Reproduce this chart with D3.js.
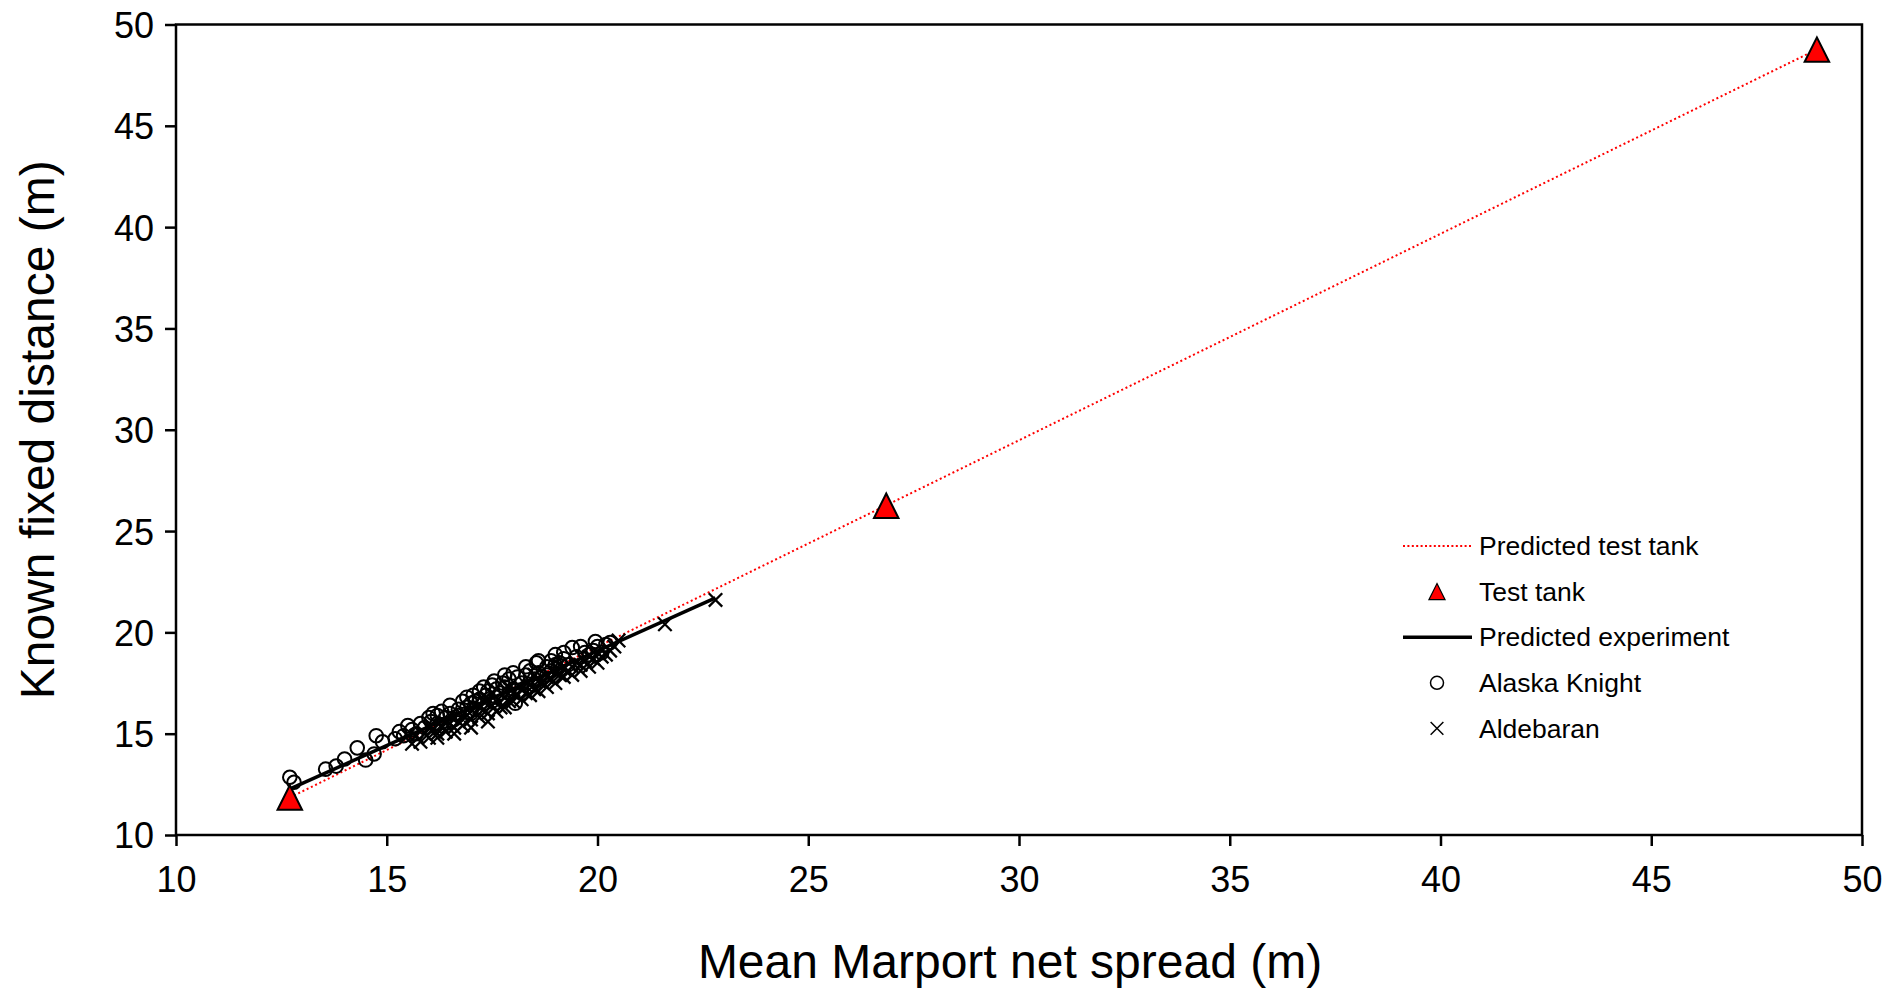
<!DOCTYPE html>
<html>
<head>
<meta charset="utf-8">
<script src="https://cdn.jsdelivr.net/npm/d3@7"></script>
<style>
  body { margin: 0; background: #fff; }
  text { font-family: "Liberation Sans", Arial, sans-serif; fill: #000; }
</style>
</head>
<body>
<svg id="chart"></svg>
<script>
// test tank measurements and fit
const tankX = [12.7, 26.85, 48.93];
const tankY = [11.85, 26.25, 48.76];
const predTankX = [12.7, 48.93];
const predTankY = [11.85, 48.77];

// predicted line for the experiment
const predExpX = [12.68, 22.8];
const predExpY = [12.25, 21.7];

// Alaska Knight (circles)
const knightX = [12.7, 12.8, 13.55, 13.8, 14.0, 14.3, 14.5, 14.7, 14.75, 15.2,
  15.4, 15.6, 15.8, 15.9, 16.0, 16.05, 16.2, 16.3, 16.4, 16.5,
  16.6, 16.7, 16.8, 16.9, 17.0, 17.05, 17.1, 17.2, 17.3, 17.35,
  17.4, 17.5, 17.55, 17.6, 17.7, 17.75, 17.8, 17.9, 18.0, 18.05,
  18.1, 18.2, 18.3, 18.35, 18.4, 18.5, 18.55, 18.6, 18.7, 18.8,
  18.9, 19.0, 19.05, 19.1, 19.2, 19.4, 19.5, 19.7, 19.95, 20.0,
  20.1, 20.2,
  15.5, 15.7, 16.1, 16.3, 16.5, 16.7, 16.9, 17.0, 17.2, 17.3,
  17.5, 17.6, 17.8, 17.9, 18.0, 18.2, 18.3, 18.5, 18.6, 18.8,
  19.0, 19.2, 19.3, 19.6, 19.8, 20.3, 19.9, 18.9, 17.1, 16.2,
  15.3, 14.9];
const knightY = [12.85, 12.6, 13.25, 13.4, 13.75, 14.3, 13.7, 14.0, 14.9, 14.75,
  14.9, 15.2, 15.5, 15.3, 15.8, 15.6, 15.5, 16.1, 15.8, 16.0,
  15.7, 16.2, 16.6, 16.3, 16.5, 16.9, 16.2, 16.7, 17.3, 16.9,
  17.1, 16.6, 17.6, 17.2, 17.0, 17.5, 17.3, 17.7, 17.2, 16.5,
  17.8, 17.5, 17.9, 17.3, 18.1, 17.7, 18.5, 18.0, 17.8, 18.3,
  18.6, 18.9, 18.2, 18.5, 18.7, 19.25, 18.8, 19.0, 19.55, 19.3,
  19.0, 19.4,
  15.4, 15.0, 16.0, 15.4, 16.4, 15.9, 16.8, 16.0, 17.1, 16.5,
  17.4, 16.8, 17.9, 17.0, 18.0, 17.0, 18.3, 17.4, 18.6, 17.9,
  18.4, 19.0, 18.4, 19.3, 18.9, 19.5, 19.1, 18.1, 16.6, 15.9,
  15.1, 14.6];

// Aldebaran (crosses)
const aldebX = [15.6, 15.7, 15.9, 16.0, 16.1, 16.2, 16.3, 16.4, 16.5, 16.6,
  16.7, 16.8, 16.9, 17.0, 17.1, 17.2, 17.3, 17.4, 17.5, 17.6,
  17.7, 17.8, 17.9, 18.0, 18.1, 18.2, 18.3, 18.4, 18.5, 18.6,
  18.7, 18.8, 18.9, 19.0, 19.1, 19.2, 19.3, 19.4, 19.5, 19.6,
  19.7, 19.8, 19.9, 20.0, 20.1, 20.3, 20.4, 21.6, 22.8,
  15.8, 16.0, 16.2, 16.4, 16.6, 16.8, 17.0, 17.2, 17.4, 17.6,
  17.8, 18.0, 18.2, 18.4, 18.6, 18.8, 19.0, 19.2, 19.4, 19.6,
  19.8, 20.0, 20.2, 17.3, 17.9, 18.5, 19.1, 16.5, 15.5, 20.5];
const aldebY = [14.5, 14.9, 15.0, 14.8, 15.2, 15.0, 15.4, 15.1, 15.5, 15.3,
  15.6, 15.4, 15.9, 15.7, 16.0, 15.8, 16.2, 16.0, 16.4, 16.6,
  16.3, 16.8, 16.6, 17.0, 16.9, 17.2, 17.0, 17.4, 17.2, 17.6,
  17.5, 17.8, 17.7, 18.0, 17.9, 18.2, 18.1, 18.3, 18.5, 18.4,
  18.6, 18.8, 18.7, 19.0, 18.8, 19.1, 19.3, 20.4, 21.6,
  14.6, 15.3, 14.8, 15.5, 15.0, 15.9, 15.3, 16.3, 15.6, 16.1,
  16.3, 16.6, 16.7, 16.9, 17.1, 17.3, 17.5, 17.8, 17.9, 18.1,
  18.3, 18.5, 18.9, 16.7, 17.3, 17.9, 18.4, 15.9, 14.9, 19.6];

const xTicks = [10, 15, 20, 25, 30, 35, 40, 45, 50];
const yTicks = [10, 15, 20, 25, 30, 35, 40, 45, 50];

const legendItems = ['Predicted test tank', 'Test tank', 'Predicted experiment', 'Alaska Knight', 'Aldebaran'];

const width = 1903;
const height = 990;
const plot = {left: 176, right: 1862, top: 24.5, bottom: 835};

const svg = d3.select('#chart')
  .attr('width', width)
  .attr('height', height);

const x = d3.scaleLinear().domain([10, 50]).range([plot.left, plot.right]);
const y = d3.scaleLinear().domain([10, 50]).range([plot.bottom, plot.top]);

// triangle centred on its bounding box, a little taller than equilateral
const triangle = {
  draw(context, size) {
    const w = Math.sqrt(size * 2);
    const h = w;
    context.moveTo(0, -h / 2);
    context.lineTo(w / 2, h / 2);
    context.lineTo(-w / 2, h / 2);
    context.closePath();
  }
};

const line = d3.line();

// axes
const xAxis = svg.append('g')
  .attr('transform', `translate(0, ${plot.bottom})`)
  .call(d3.axisBottom(x).tickValues(xTicks).tickSize(11).tickPadding(15).tickSizeOuter(0));
const yAxis = svg.append('g')
  .attr('transform', `translate(${plot.left}, 0)`)
  .call(d3.axisLeft(y).tickValues(yTicks).tickSize(11).tickPadding(11).tickSizeOuter(0));

[xAxis, yAxis].forEach(a => {
  a.select('.domain').remove();
  a.selectAll('line').attr('stroke', '#000').attr('stroke-width', 2.5);
  a.selectAll('text')
    .attr('font-size', 36)
    .attr('font-family', '"Liberation Sans", Arial, sans-serif')
    .attr('fill', '#000');
});
xAxis.selectAll('text').attr('dy', '0.85em');
yAxis.selectAll('text').attr('dy', '0.36em');

// frame
svg.append('rect')
  .attr('x', plot.left)
  .attr('y', plot.top)
  .attr('width', plot.right - plot.left)
  .attr('height', plot.bottom - plot.top)
  .attr('fill', 'none')
  .attr('stroke', '#000')
  .attr('stroke-width', 2.5);

const g = svg.append('g');

// predicted test tank
g.append('path')
  .attr('d', line(predTankX.map((d, i) => [x(d), y(predTankY[i])])))
  .attr('fill', 'none')
  .attr('stroke', '#ff0000')
  .attr('stroke-width', 2)
  .attr('stroke-dasharray', '2,2.7');

// Alaska Knight circles
g.selectAll('.knight')
  .data(knightX.map((d, i) => ({x: d, y: knightY[i]})))
  .enter()
  .append('circle')
  .attr('class', 'knight')
  .attr('cx', d => x(d.x))
  .attr('cy', d => y(d.y))
  .attr('r', 6.8)
  .attr('fill', 'none')
  .attr('stroke', '#000')
  .attr('stroke-width', 2);

// Aldebaran crosses
g.selectAll('.aldeb')
  .data(aldebX.map((d, i) => ({x: d, y: aldebY[i]})))
  .enter()
  .append('path')
  .attr('class', 'aldeb')
  .attr('transform', d => `translate(${x(d.x)}, ${y(d.y)}) rotate(45)`)
  .attr('d', 'M-9.5,0H9.5M0,-9.5V9.5')
  .attr('stroke', '#000')
  .attr('stroke-width', 2.3);

// predicted experiment
g.append('path')
  .attr('d', line(predExpX.map((d, i) => [x(d), y(predExpY[i])])))
  .attr('fill', 'none')
  .attr('stroke', '#000')
  .attr('stroke-width', 3.5);

// test tank triangles
g.selectAll('.tank')
  .data(tankX.map((d, i) => ({x: d, y: tankY[i]})))
  .enter()
  .append('path')
  .attr('class', 'tank')
  .attr('transform', d => `translate(${x(d.x)}, ${y(d.y)})`)
  .attr('d', d3.symbol().type(triangle).size(300))
  .attr('fill', '#ff0000')
  .attr('stroke', '#000')
  .attr('stroke-width', 2);

// axis titles
svg.append('text')
  .attr('x', 1010)
  .attr('y', 978)
  .attr('text-anchor', 'middle')
  .attr('font-size', 48)
  .text('Mean Marport net spread (m)');

svg.append('text')
  .attr('transform', `translate(54, ${(plot.top + plot.bottom) / 2}) rotate(-90)`)
  .attr('text-anchor', 'middle')
  .attr('font-size', 48)
  .text('Known fixed distance (m)');

// legend
const legend = svg.append('g').attr('transform', 'translate(1403, 546)');
const rowH = 45.6;
legendItems.forEach((name, i) => {
  const row = legend.append('g').attr('transform', `translate(0, ${i * rowH})`);
  if (i === 0) {
    row.append('line').attr('x1', 0).attr('x2', 69)
      .attr('stroke', '#ff0000').attr('stroke-width', 2).attr('stroke-dasharray', '2,2.4');
  } else if (i === 1) {
    row.append('path')
      .attr('transform', 'translate(34, 0)')
      .attr('d', d3.symbol().type(triangle).size(130))
      .attr('fill', '#ff0000').attr('stroke', '#000').attr('stroke-width', 1.2);
  } else if (i === 2) {
    row.append('line').attr('x1', 0).attr('x2', 69)
      .attr('stroke', '#000').attr('stroke-width', 3.5);
  } else if (i === 3) {
    row.append('circle').attr('cx', 34).attr('r', 6.5)
      .attr('fill', 'none').attr('stroke', '#000').attr('stroke-width', 1.5);
  } else {
    row.append('path')
      .attr('transform', 'translate(34, 0) rotate(45)')
      .attr('d', 'M-9,0H9M0,-9V9')
      .attr('stroke', '#000').attr('stroke-width', 1.5);
  }
  row.append('text')
    .attr('x', 76)
    .attr('dy', '0.35em')
    .attr('font-size', 26.5)
    .text(name);
});
</script>
</body>
</html>
